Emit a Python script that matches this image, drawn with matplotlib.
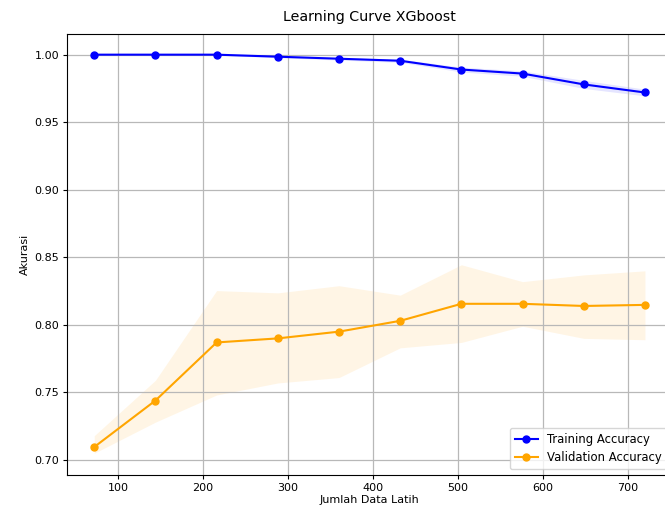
import matplotlib
matplotlib.use("Agg")
import matplotlib.pyplot as plt
import numpy as np

train_sizes = [72, 144, 216, 288, 360, 432, 504, 576, 648, 720]
train_mean = [1.000, 1.000, 1.000, 0.9985, 0.997, 0.9955, 0.989, 0.986, 0.978, 0.972]
train_std = [0.0002, 0.0002, 0.0003, 0.0008, 0.001, 0.0012, 0.0018, 0.002, 0.003, 0.0025]
val_mean = [0.7096, 0.744, 0.787, 0.790, 0.795, 0.803, 0.8156, 0.8156, 0.814, 0.8148]
val_upper = [0.718, 0.759, 0.8254, 0.8237, 0.829, 0.822, 0.8445, 0.832, 0.837, 0.840]
val_lower = [0.705, 0.728, 0.7481, 0.757, 0.761, 0.783, 0.787, 0.799, 0.790, 0.789]

plt.rcParams['font.size'] = 8

fig = plt.figure(figsize=(6.65, 5.12), dpi=100)
ax = fig.add_axes([0.1003, 0.0723, 0.911, 0.8613])

tm = np.array(train_mean)
ts = np.array(train_std)
ax.plot(train_sizes, train_mean, color='blue', marker='o', markersize=5, label='Training Accuracy')
ax.fill_between(train_sizes, tm + ts, tm - ts, color='blue', alpha=0.1, linewidth=0)
ax.plot(train_sizes, val_mean, color='orange', marker='o', markersize=5, label='Validation Accuracy')
ax.fill_between(train_sizes, val_upper, val_lower, color='orange', alpha=0.1, linewidth=0)

ax.set_xlim(39.6, 752.4)
ax.set_ylim(0.6889, 1.0153)
ax.tick_params(length=3, pad=2.5)
ax.set_title('Learning Curve XGboost', fontsize=10.3, pad=9)
ax.set_xlabel('Jumlah Data Latih', labelpad=2)
ax.set_ylabel('Akurasi', labelpad=3)
ax.grid(True, color='#b8b8b8', linewidth=0.9)
ax.legend(loc='lower right', fontsize=8.4)

fig.savefig('out.png', dpi=100)
